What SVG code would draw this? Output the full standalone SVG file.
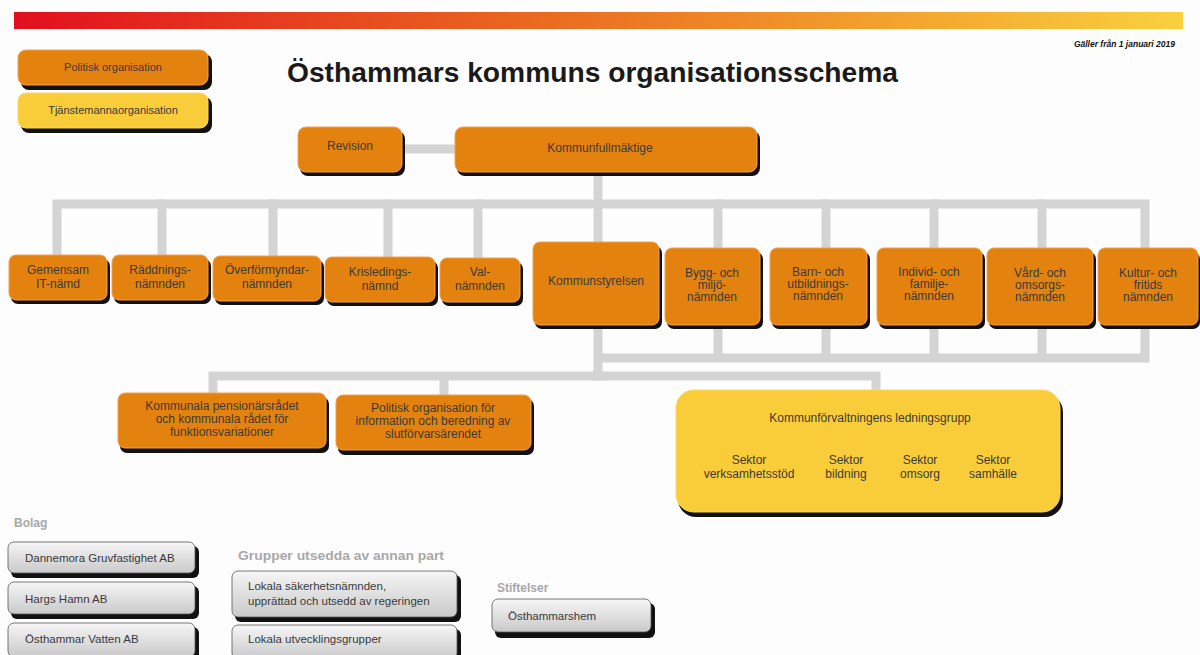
<svg xmlns="http://www.w3.org/2000/svg" width="1200" height="655" viewBox="0 0 1200 655">
<defs>
<linearGradient id="bar" x1="0" y1="0" x2="1" y2="0">
<stop offset="0" stop-color="#e10f1e"/>
<stop offset="0.45" stop-color="#ea6a20"/>
<stop offset="0.75" stop-color="#f3a22e"/>
<stop offset="1" stop-color="#f9d040"/>
</linearGradient>
<linearGradient id="grey" x1="0" y1="0" x2="0" y2="1">
<stop offset="0" stop-color="#f6f6f6"/>
<stop offset="1" stop-color="#c9c9c9"/>
</linearGradient>
</defs>
<style>
.bg{fill:#fdfdfd}
.sh{fill:#111}
.pol{fill:#e4820f;stroke:#f3a050;stroke-width:1}
.tj{fill:#f9cc3a;stroke:#fbd860;stroke-width:1}
.gr{fill:url(#grey);stroke:#555;stroke-width:0.8}
.conn{fill:none;stroke:#d4d4d4;stroke-width:9;stroke-linecap:square;stroke-linejoin:miter}
text{font-family:"Liberation Sans",Arial,sans-serif}
.t{font-size:12px;fill:#3a3a3a;text-anchor:middle}
.s{font-size:11px;fill:#3a3a3a;text-anchor:middle}
.l{font-size:11.5px;fill:#3a3a3a}
.h{font-size:12px;font-weight:bold;fill:#a8a8a8}
</style>
<rect class="bg" x="0" y="0" width="1200" height="655"/>
<rect x="14" y="12" width="1169" height="17" fill="url(#bar)"/>
<text x="1175" y="47" font-size="8.5" font-weight="bold" font-style="italic" fill="#111" text-anchor="end">Gäller från 1 januari 2019</text>
<text x="287" y="82" font-size="28" font-weight="bold" fill="#1a1a1a" textLength="611" lengthAdjust="spacingAndGlyphs">Östhammars kommuns organisationsschema</text>

<g id="legend-politisk">
<rect class="sh" x="21" y="54" width="191" height="36" rx="8"/>
<rect class="pol" x="18" y="50" width="190" height="35" rx="8"/>
<text class="s" x="113" y="71">Politisk organisation</text>
</g>
<g id="legend-tjanstemanna">
<rect class="sh" x="21" y="97" width="191" height="36" rx="8"/>
<rect class="tj" x="18" y="93" width="190" height="35" rx="8"/>
<text class="s" x="113" y="114">Tjänstemannaorganisation</text>
</g>

<g id="connectors">
<path class="conn" d="M402 149 H455"/>
<path class="conn" d="M598 172 V242"/>
<path class="conn" d="M57 255 V204 H1145 V248"/>
<path class="conn" d="M162 204 V255 M273 204 V256 M388 204 V257 M478 204 V258 M718 204 V248 M826 204 V248 M934 204 V248 M1042 204 V248"/>
<path class="conn" d="M598 325 V376 M718 325 V358 M826 325 V358 M934 325 V358 M1042 325 V358 M1145 325 V358 H598"/>
<path class="conn" d="M213 393 V376 H876 V390 M444 376 V395"/>
</g>

<g id="revision">
<rect class="sh" x="300" y="131" width="105" height="45" rx="8"/>
<rect class="pol" x="298" y="127" width="104" height="45" rx="8"/>
<text class="t" x="350" y="150">Revision</text>
</g>
<g id="kommunfullmaktige">
<rect class="sh" x="457" y="131" width="303" height="45" rx="8"/>
<rect class="pol" x="455" y="127" width="302" height="45" rx="8"/>
<text class="t" x="600" y="152">Kommunfullmäktige</text>
</g>

<g id="gemensam-it">
<rect class="sh" x="11" y="259" width="99" height="45" rx="7"/>
<rect class="pol" x="9" y="255" width="98" height="45" rx="7"/>
<text class="t" x="58" y="274">Gemensam</text><text class="t" x="58" y="288">IT-nämd</text>
</g>
<g id="raddningsnamnden">
<rect class="sh" x="114" y="259" width="97" height="45" rx="7"/>
<rect class="pol" x="112" y="255" width="96" height="45" rx="7"/>
<text class="t" x="160" y="274">Räddnings-</text><text class="t" x="160" y="288">nämnden</text>
</g>
<g id="overformyndarnamnden">
<rect class="sh" x="215" y="260" width="109" height="45" rx="7"/>
<rect class="pol" x="213" y="256" width="108" height="45" rx="7"/>
<text class="t" x="267" y="274">Överförmyndar-</text><text class="t" x="267" y="288">nämnden</text>
</g>
<g id="krisledningsnamnd">
<rect class="sh" x="327" y="261" width="111" height="45" rx="7"/>
<rect class="pol" x="325" y="257" width="110" height="45" rx="7"/>
<text class="t" x="380" y="276">Krisledings-</text><text class="t" x="380" y="290">nämnd</text>
</g>
<g id="valnamnden">
<rect class="sh" x="442" y="262" width="81" height="44" rx="7"/>
<rect class="pol" x="440" y="258" width="80" height="44" rx="7"/>
<text class="t" x="480" y="276">Val-</text><text class="t" x="480" y="290">nämnden</text>
</g>
<g id="kommunstyrelsen">
<rect class="sh" x="535" y="246" width="127" height="83" rx="7"/>
<rect class="pol" x="533" y="242" width="126" height="83" rx="7"/>
<text class="t" x="596" y="285">Kommunstyrelsen</text>
</g>
<g id="bygg-miljo">
<rect class="sh" x="667" y="252" width="96" height="77" rx="7"/>
<rect class="pol" x="665" y="248" width="95" height="77" rx="7"/>
<text class="t" x="712" y="277">Bygg- och</text><text class="t" x="712" y="289">miljö-</text><text class="t" x="712" y="301">nämnden</text>
</g>
<g id="barn-utbildning">
<rect class="sh" x="772" y="252" width="98" height="77" rx="7"/>
<rect class="pol" x="770" y="248" width="97" height="77" rx="7"/>
<text class="t" x="818" y="276">Barn- och</text><text class="t" x="818" y="288">utbildnings-</text><text class="t" x="818" y="300">nämnden</text>
</g>
<g id="individ-familj">
<rect class="sh" x="879" y="252" width="106" height="77" rx="7"/>
<rect class="pol" x="877" y="248" width="105" height="77" rx="7"/>
<text class="t" x="929" y="276">Individ- och</text><text class="t" x="929" y="288">familje-</text><text class="t" x="929" y="300">nämnden</text>
</g>
<g id="vard-omsorg">
<rect class="sh" x="989" y="252" width="107" height="77" rx="7"/>
<rect class="pol" x="987" y="248" width="106" height="77" rx="7"/>
<text class="t" x="1040" y="277">Vård- och</text><text class="t" x="1040" y="289">omsorgs-</text><text class="t" x="1040" y="301">nämnden</text>
</g>
<g id="kultur-fritid">
<rect class="sh" x="1100" y="252" width="100" height="77" rx="7"/>
<rect class="pol" x="1098" y="248" width="100" height="77" rx="7"/>
<text class="t" x="1148" y="277">Kultur- och</text><text class="t" x="1148" y="289">fritids</text><text class="t" x="1148" y="301">nämnden</text>
</g>

<g id="pensionarsradet">
<rect class="sh" x="120" y="397" width="209" height="56" rx="7"/>
<rect class="pol" x="118" y="393" width="208" height="55" rx="7"/>
<text class="t" x="222" y="410">Kommunala pensionärsrådet</text><text class="t" x="222" y="423">och kommunala rådet för</text><text class="t" x="222" y="436">funktionsvariationer</text>
</g>
<g id="slutforvar">
<rect class="sh" x="338" y="399" width="196" height="56" rx="7"/>
<rect class="pol" x="336" y="395" width="195" height="55" rx="7"/>
<text class="t" x="433" y="412">Politisk organisation för</text><text class="t" x="433" y="425">information och beredning av</text><text class="t" x="433" y="438">slutförvarsärendet</text>
</g>

<g id="ledningsgrupp">
<rect class="sh" x="678" y="394" width="385" height="123" rx="18"/>
<rect class="tj" x="676" y="390" width="384" height="122" rx="18"/>
<text class="t" x="870" y="422">Kommunförvaltningens ledningsgrupp</text>
<text class="t" x="749" y="464">Sektor</text><text class="t" x="749" y="478">verksamhetsstöd</text>
<text class="t" x="846" y="464">Sektor</text><text class="t" x="846" y="478">bildning</text>
<text class="t" x="920" y="464">Sektor</text><text class="t" x="920" y="478">omsorg</text>
<text class="t" x="993" y="464">Sektor</text><text class="t" x="993" y="478">samhälle</text>
</g>

<text class="h" x="14" y="527">Bolag</text>
<text class="h" x="238" y="560" textLength="206" lengthAdjust="spacingAndGlyphs">Grupper utsedda av annan part</text>
<text class="h" x="497" y="592">Stiftelser</text>

<g id="dannemora">
<rect class="sh" x="11" y="546" width="188" height="32" rx="6"/>
<rect class="gr" x="8" y="542" width="187" height="31" rx="6"/>
<text class="l" x="25" y="562">Dannemora Gruvfastighet AB</text>
</g>
<g id="hargs-hamn">
<rect class="sh" x="11" y="586" width="188" height="33" rx="6"/>
<rect class="gr" x="8" y="582" width="187" height="32" rx="6"/>
<text class="l" x="25" y="603">Hargs Hamn AB</text>
</g>
<g id="osthammar-vatten">
<rect class="sh" x="11" y="627" width="188" height="33" rx="6"/>
<rect class="gr" x="8" y="623" width="187" height="34" rx="6"/>
<text class="l" x="25" y="643">Östhammar Vatten AB</text>
</g>
<g id="sakerhetsnamnden">
<rect class="sh" x="235" y="575" width="226" height="47" rx="6"/>
<rect class="gr" x="232" y="571" width="225" height="46" rx="6"/>
<text class="l" x="248" y="590">Lokala säkerhetsnämnden,</text><text class="l" x="248" y="605">upprättad och utsedd av regeringen</text>
</g>
<g id="utvecklingsgrupper">
<rect class="sh" x="235" y="629" width="226" height="33" rx="6"/>
<rect class="gr" x="232" y="625" width="225" height="34" rx="6"/>
<text class="l" x="248" y="643">Lokala utvecklingsgrupper</text>
</g>
<g id="osthammarshem">
<rect class="sh" x="495" y="603" width="160" height="35" rx="6"/>
<rect class="gr" x="492" y="599" width="159" height="33" rx="6"/>
<text class="l" x="508" y="620">Östhammarshem</text>
</g>
</svg>
